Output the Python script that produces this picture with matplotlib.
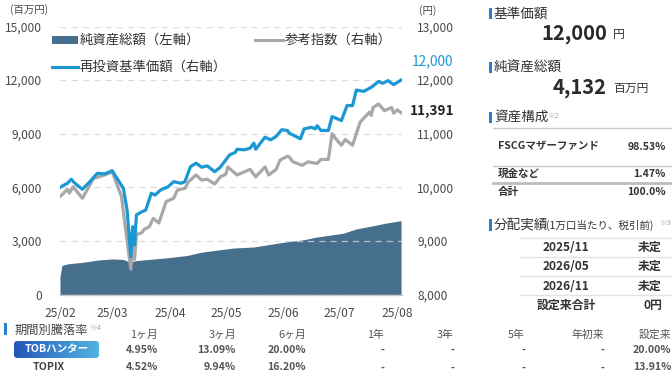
import matplotlib
matplotlib.use('Agg')
import matplotlib.pyplot as plt
import matplotlib.dates as mdates
from matplotlib.patches import FancyBboxPatch, Rectangle
from matplotlib.lines import Line2D
from matplotlib.colors import LinearSegmentedColormap
import numpy as np
import pandas as pd

plt.rcParams['font.family'] = ['Noto Sans CJK JP', 'DejaVu Sans']

# ---------------- data ----------------
nav_dates = ['2025-02-01', '2025-02-05', '2025-02-07', '2025-02-09', '2025-02-13', '2025-02-17',
             '2025-02-21', '2025-02-25', '2025-03-01', '2025-03-03', '2025-03-07', '2025-03-09',
             '2025-03-11', '2025-03-12', '2025-03-13', '2025-03-14', '2025-03-17', '2025-03-19',
             '2025-03-22', '2025-03-24', '2025-03-27', '2025-03-31', '2025-04-03', '2025-04-07',
             '2025-04-09', '2025-04-12', '2025-04-15', '2025-04-18', '2025-04-21', '2025-04-25',
             '2025-04-28', '2025-05-03', '2025-05-06', '2025-05-07', '2025-05-11', '2025-05-14',
             '2025-05-16', '2025-05-17', '2025-05-22', '2025-05-25', '2025-05-28', '2025-05-31',
             '2025-06-03', '2025-06-04', '2025-06-10', '2025-06-12', '2025-06-16', '2025-06-18',
             '2025-06-19', '2025-06-21', '2025-06-25', '2025-06-27', '2025-07-02', '2025-07-05',
             '2025-07-08', '2025-07-10', '2025-07-14', '2025-07-18', '2025-07-22', '2025-07-24',
             '2025-07-27', '2025-07-30', '2025-08-03']
nav_values = [10000, 10075, 10150, 10075, 9963, 10105,
              10260, 10250, 10310, 10200, 9980, 9575,
              8700, 9265, 8925, 9485, 9545, 9575,
              9890, 9855, 9950, 10010, 10105, 10075,
              10105, 10385, 10450, 10375, 10400, 10290,
              10375, 10605, 10650, 10710, 10700, 10730,
              10825, 10710, 10935, 10885, 10950, 11075,
              11060, 11010, 10905, 11090, 11120, 11090,
              11150, 11060, 11060, 11320, 11245, 11525,
              11525, 11815, 11790, 11865, 11975, 11940,
              11990, 11915, 12000]

ref_dates = ['2025-02-01', '2025-02-05', '2025-02-06', '2025-02-08', '2025-02-13', '2025-02-16',
             '2025-02-19', '2025-02-25', '2025-03-01', '2025-03-06', '2025-03-08', '2025-03-11',
             '2025-03-12', '2025-03-13', '2025-03-14', '2025-03-17', '2025-03-18', '2025-03-21',
             '2025-03-23', '2025-03-26', '2025-03-30', '2025-04-03', '2025-04-05', '2025-04-09',
             '2025-04-11', '2025-04-15', '2025-04-18', '2025-04-21', '2025-04-25', '2025-04-28',
             '2025-05-01', '2025-05-02', '2025-05-07', '2025-05-11', '2025-05-14', '2025-05-17',
             '2025-05-22', '2025-05-24', '2025-05-28', '2025-05-30', '2025-06-03', '2025-06-04',
             '2025-06-06', '2025-06-11', '2025-06-14', '2025-06-19', '2025-06-21', '2025-06-25',
             '2025-06-27', '2025-06-29', '2025-07-02', '2025-07-04', '2025-07-08', '2025-07-12',
             '2025-07-17', '2025-07-18', '2025-07-19', '2025-07-22', '2025-07-25', '2025-07-29',
             '2025-07-30', '2025-08-01', '2025-08-03']
ref_values = [9826, 9963, 9890, 10010, 9795, 9980,
              10165, 10230, 10290, 9826, 9270, 8470,
              8965, 8655, 9115, 9155, 9210, 9270,
              9420, 9335, 9735, 9795, 9950, 9980,
              10105, 10230, 10135, 10150, 10060, 10195,
              10245, 10380, 10230, 10290, 10335, 10195,
              10380, 10230, 10335, 10505, 10580, 10565,
              10475, 10410, 10475, 10445, 10520, 10520,
              11000, 10905, 10785, 10890, 10785, 11215,
              11400, 11340, 11490, 11555, 11430, 11490,
              11380, 11445, 11391]

asset_dates = ['2025-02-01', '2025-02-02', '2025-02-05', '2025-02-13', '2025-02-22', '2025-03-01',
               '2025-03-07', '2025-03-10', '2025-03-12', '2025-03-14', '2025-03-31', '2025-04-10',
               '2025-04-18', '2025-05-05', '2025-05-16', '2025-06-01', '2025-06-12', '2025-06-18',
               '2025-07-03', '2025-07-10', '2025-07-22', '2025-07-25', '2025-08-03']
asset_values = [1000, 1620, 1715, 1800, 1935, 1990,
                1960, 1830, 1850, 1900, 2060, 2180,
                2370, 2600, 2660, 2925, 3070, 3205,
                3430, 3670, 3910, 3980, 4132]

month_ticks = ['2025-02-01', '2025-03-01', '2025-04-01', '2025-05-01', '2025-06-01', '2025-07-01', '2025-08-01']
month_labels = ['25/02', '25/03', '25/04', '25/05', '25/06', '25/07', '25/08']
left_ticks = [0, 3000, 6000, 9000, 12000, 15000]
right_ticks = [8000, 9000, 10000, 11000, 12000, 13000]

legend_labels = ['純資産総額（左軸）', '参考指数（右軸）', '再投資基準価額（右軸）']
nav_last_label = '12,000'
ref_last_label = '11,391'

base_price = '12,000'
net_assets = '4,132'
alloc_names = ['FSCGマザーファンド', '現金など', '合計']
alloc_values = ['98.53%', '1.47%', '100.0%']
dist_dates = ['2025/11', '2026/05', '2026/11', '設定来合計']
dist_values = ['未定', '未定', '未定', '0円']

period_headers = ['1ヶ月', '3ヶ月', '6ヶ月', '1年', '3年', '5年', '年初来', '設定来']
fund_returns = ['4.95%', '13.09%', '20.00%', '-', '-', '-', '-', '20.00%']
topix_returns = ['4.52%', '9.94%', '16.20%', '-', '-', '-', '-', '13.91%']
row_names = ['TOBハンター', 'TOPIX']

# ---------------- styling ----------------
W, H = 672, 376
AREA_C = '#466f8e'
BLUE_C = '#1b98d4'
GRAY_C = '#a8a8a8'
TXT = '#333333'
TICK_C = '#4a4a4a'
BAR_C = '#2d7fc6'

fig = plt.figure(figsize=(W / 100, H / 100), dpi=100)
fig.patch.set_facecolor('white')


def fx(x):
    return x / W


def fy(y):
    return 1 - y / H


def T(x, y, s, **kw):
    kw.setdefault('va', 'center')
    kw.setdefault('color', TXT)
    return fig.text(fx(x), fy(y), s, **kw)


def HL(x0, x1, y, color='#cccccc', lw=0.8):
    fig.add_artist(Line2D([fx(x0), fx(x1)], [fy(y), fy(y)], color=color, lw=lw))


def VBAR(x, y0, y1):
    fig.add_artist(Rectangle((fx(x), fy(y1)), 2.5 / W, (y1 - y0) / H, color=BAR_C, lw=0))


# main axes
ax_l, ax_r, ax_t, ax_b = 60, 402, 26.5, 294.5
ax = fig.add_axes([fx(ax_l), fy(ax_b), (ax_r - ax_l) / W, (ax_b - ax_t) / H])
ax2 = ax.twinx()

ad = pd.to_datetime(asset_dates)
ax.fill_between(ad, 0, asset_values, color=AREA_C, lw=0, zorder=1)

nd = pd.to_datetime(nav_dates)
rd = pd.to_datetime(ref_dates)
ax2.plot(rd, ref_values, color=GRAY_C, lw=2.3, solid_joinstyle='round', zorder=3)
ax2.plot(nd, nav_values, color=BLUE_C, lw=2.3, solid_joinstyle='round', zorder=4)

ax.set_ylim(0, 15000)
ax2.set_ylim(8000, 13000)
ax.set_xlim(pd.Timestamp('2025-02-01'), pd.Timestamp('2025-08-03 12:00'))

ax.set_yticks(left_ticks)
ax.set_yticklabels([f'{v:,}' for v in left_ticks])
ax2.set_yticks(right_ticks)
ax2.set_yticklabels([f'{v:,}' for v in right_ticks])
ax.set_xticks(pd.to_datetime(month_ticks))
ax.set_xticklabels(month_labels)

ax.tick_params(axis='y', length=0, pad=13, labelsize=8.7, labelcolor=TICK_C)
ax2.tick_params(axis='y', length=0, pad=11, labelsize=8.7, labelcolor=TICK_C)
ax.tick_params(axis='x', length=0, pad=9, labelsize=8.7, labelcolor=TICK_C)

for a in (ax, ax2):
    for s in a.spines.values():
        s.set_visible(False)
ax.spines['bottom'].set_visible(True)
ax.spines['bottom'].set_color('#c8c8c8')
ax.spines['bottom'].set_linewidth(1.0)

ax.set_axisbelow(False)
ax.yaxis.grid(True, linestyle=(0, (5, 4)), color='#d4d4d4', lw=0.9, alpha=0.8)
ax.set_facecolor('none')

# axis unit labels
T(10, 10, '(百万円)', fontsize=7.5, color=TICK_C)
T(419, 11, '(円)', fontsize=7.5, color=TICK_C)

# legend
fig.add_artist(Rectangle((fx(52), fy(43.5)), 25.5 / W, 7.5 / H, color=AREA_C, lw=0))
T(80, 39.5, legend_labels[0], fontsize=9.6)
fig.add_artist(Line2D([fx(255), fx(283)], [fy(40), fy(40)], color=GRAY_C, lw=2.2))
T(285, 39.5, legend_labels[1], fontsize=9.6)
fig.add_artist(Line2D([fx(52), fx(78)], [fy(66.5), fy(66.5)], color=BLUE_C, lw=2.2))
T(80, 66.5, legend_labels[2], fontsize=9.6)

# last value labels
T(412, 61, nav_last_label, fontsize=9.8, color=BLUE_C)
T(410, 111.5, ref_last_label, fontsize=9.8, color='#222222', fontweight='bold')

# ---------------- right panel ----------------
VBAR(489, 8, 19)
T(494, 13.5, '基準価額', fontsize=9.8)
T(607, 33, base_price, fontsize=14.5, fontweight='bold', ha='right', color='#2a2a2a')
T(613, 34.5, '円', fontsize=8.5)

VBAR(489, 62, 73)
T(494, 67.5, '純資産総額', fontsize=9.8)
T(607, 87, net_assets, fontsize=14.5, fontweight='bold', ha='right', color='#2a2a2a')
T(613, 88.5, '百万円', fontsize=8.5)

VBAR(489, 112, 123)
T(494, 117.5, '資産構成', fontsize=9.8)
T(548, 115.5, '※2', fontsize=5.5, color='#aaaaaa')
HL(493, 671, 128, color='#c8c8c8', lw=1.0)
T(498, 146.5, alloc_names[0], fontsize=7.6, fontweight='bold')
T(666, 146.5, alloc_values[0], fontsize=7.6, fontweight='bold', ha='right')
HL(493, 671, 165.5, color='#c8c8c8', lw=1.0)
T(498, 173.8, alloc_names[1], fontsize=7.6, fontweight='bold')
T(666, 173.8, alloc_values[1], fontsize=7.6, fontweight='bold', ha='right')
HL(493, 671, 182.5, color='#bdbdbd', lw=2.0)
T(498, 191.8, alloc_names[2], fontsize=7.6, fontweight='bold')
T(666, 191.8, alloc_values[2], fontsize=7.6, fontweight='bold', ha='right')

VBAR(489, 219, 231)
T(494, 225, '分配実績', fontsize=9.8)
T(546, 225.5, '(1万口当たり、税引前)', fontsize=7.6)
T(660, 223, '※3', fontsize=5.5, color='#aaaaaa')
row_ys = [247.5, 266.5, 286, 305.5]
line_ys = [238, 257, 276, 295]
for ly in line_ys:
    HL(520, 671, ly, color='#e3e3e3', lw=1.0)
for i, (d, v) in enumerate(zip(dist_dates, dist_values)):
    T(566, row_ys[i], d, fontsize=8.6, fontweight='bold', ha='center')
    T(662, row_ys[i], v, fontsize=8.6, fontweight='bold', ha='right')

# ---------------- bottom returns table ----------------
fig.add_artist(Rectangle((fx(4), fy(335)), 2.5 / W, 12 / H, color=BAR_C, lw=0))
T(15, 330, '期間別騰落率', fontsize=8.8, color='#444444')
T(90, 327.5, '※4', fontsize=5.5, color='#aaaaaa')

col_x = [158, 236, 306, 384, 454, 525, 604, 671]
for cx, h in zip(col_x, period_headers):
    T(cx, 335, h, fontsize=7.8, color='#555555', ha='right')
for cx, v in zip(col_x, fund_returns):
    T(cx, 350, v, fontsize=7.6, color='#555555', ha='right', fontweight='bold')
for cx, v in zip(col_x, topix_returns):
    T(cx, 367.5, v, fontsize=7.6, color='#555555', ha='right', fontweight='bold')

# badge with gradient
bx0, by0, bw, bh = 14, 341, 85, 17
bax = fig.add_axes([fx(bx0), fy(by0 + bh), bw / W, bh / H])
bax.set_axis_off()
cmap = LinearSegmentedColormap.from_list('badge', ['#2356ba', '#3a86cf', '#52b3df'])
grad = np.linspace(0, 1, 256).reshape(1, -1)
im = bax.imshow(grad, extent=[0, 1, 0, 1], aspect='auto', cmap=cmap)
bax.set_xlim(0, 1)
bax.set_ylim(0, 1)
clip = FancyBboxPatch((0, 0), 1, 1, boxstyle='round,pad=0,rounding_size=0.04',
                      mutation_aspect=5, transform=bax.transAxes, facecolor='none', edgecolor='none')
bax.add_patch(clip)
im.set_clip_path(clip)
T(57, 349.5, row_names[0], fontsize=7.6, color='white', fontweight='bold', ha='center')
T(49, 367.5, row_names[1], fontsize=7.6, color='#444444', fontweight='bold', ha='center')

fig.savefig('out.png', dpi=100, facecolor='white')
